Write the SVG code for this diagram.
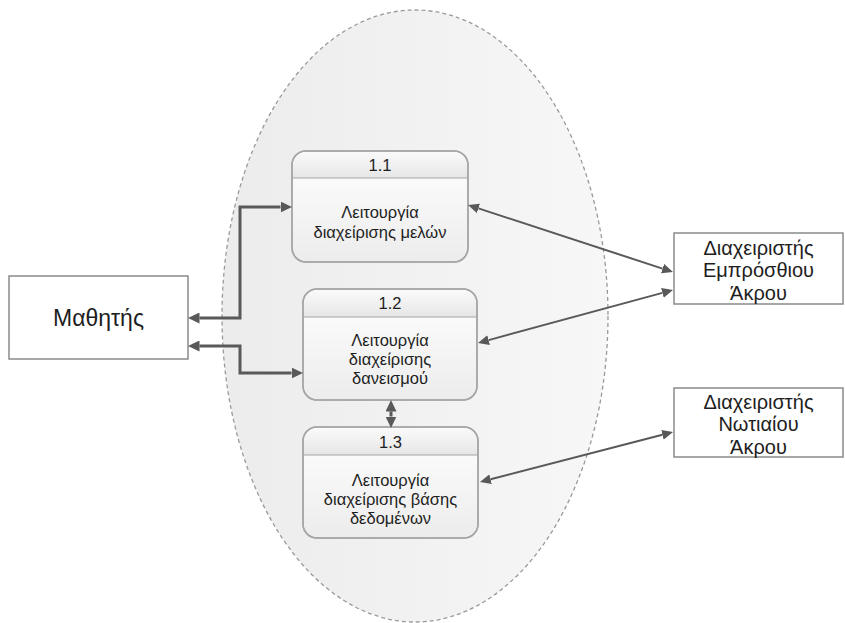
<svg xmlns="http://www.w3.org/2000/svg" width="845" height="623" viewBox="0 0 845 623">
<defs>
  <linearGradient id="ellGrad" x1="0" y1="0" x2="1" y2="0">
    <stop offset="0" stop-color="#ececec"/>
    <stop offset="1" stop-color="#f7f7f7"/>
  </linearGradient>
  <linearGradient id="bodyGrad" x1="0" y1="0" x2="0" y2="1">
    <stop offset="0" stop-color="#ffffff"/>
    <stop offset="1" stop-color="#ececec"/>
  </linearGradient>
  <linearGradient id="headGrad" x1="0" y1="0" x2="0" y2="1">
    <stop offset="0" stop-color="#fafafa"/>
    <stop offset="1" stop-color="#e6e6e6"/>
  </linearGradient>
  <marker id="arr" markerUnits="userSpaceOnUse" markerWidth="12" markerHeight="11" refX="0" refY="5.5" orient="auto-start-reverse">
    <path d="M0,0 L11.5,5.5 L0,11 Z" fill="#595959"/>
  </marker>
  <marker id="arrS" markerUnits="userSpaceOnUse" markerWidth="12" markerHeight="10" refX="0" refY="5" orient="auto-start-reverse">
    <path d="M0,0 L11,5 L0,10 Z" fill="#595959"/>
  </marker>
</defs>
<style>
  .ent { fill: #ffffff; stroke: #8a8a8a; stroke-width: 1.5; }
  .proc { fill: url(#bodyGrad); stroke: #a6a6a6; stroke-width: 1.5; }
  .head { fill: url(#headGrad); }
  .div { stroke: #a6a6a6; stroke-width: 1.2; }
  .t { font-family: "Liberation Sans", "DejaVu Sans", sans-serif; fill: #1e1e1e; text-anchor: middle; }
  .tp { font-size: 16.5px; }
  .te { font-size: 20px; }
  .thick { fill: none; stroke: #595959; stroke-width: 3; marker-start: url(#arr); marker-end: url(#arr); }
  .thin { fill: none; stroke: #595959; stroke-width: 2; marker-start: url(#arrS); marker-end: url(#arrS); }
</style>

<g id="boundary">
  <ellipse cx="415" cy="316" rx="193" ry="306" fill="url(#ellGrad)" stroke="#9a9a9a" stroke-width="1.3" stroke-dasharray="4 3"/>
</g>

<g id="mathitis">
  <rect class="ent" x="9" y="276" width="179" height="83"/>
  <text class="t" x="98.5" y="326" font-size="23">Μαθητής</text>
</g>

<g id="front-admin">
  <rect class="ent" x="674" y="233" width="169" height="71"/>
  <text class="t te" x="758.5" y="255">Διαχειριστής</text>
  <text class="t te" x="758.5" y="277">Εμπρόσθιου</text>
  <text class="t te" x="758.5" y="300">Άκρου</text>
</g>

<g id="back-admin">
  <rect class="ent" x="674" y="388" width="169" height="69"/>
  <text class="t te" x="758.5" y="409">Διαχειριστής</text>
  <text class="t te" x="758.5" y="431">Νωτιαίου</text>
  <text class="t te" x="758.5" y="454">Άκρου</text>
</g>

<g id="p1-1">
  <rect class="proc" x="292" y="151" width="176" height="111" rx="14"/>
  <path class="head" d="M293,178 V165 A13,13 0 0 1 306,152 H454 A13,13 0 0 1 467,165 V178 Z"/>
  <rect x="292" y="151" width="176" height="111" rx="14" fill="none" stroke="#a6a6a6" stroke-width="1.5"/>
  <line class="div" x1="292" y1="178" x2="468" y2="178"/>
  <text class="t tp" x="380" y="170.5">1.1</text>
  <text class="t tp" x="380" y="218">Λειτουργία</text>
  <text class="t tp" x="380" y="238">διαχείρισης μελών</text>
</g>

<g id="p1-2">
  <rect class="proc" x="303" y="289" width="174" height="111" rx="14"/>
  <path class="head" d="M304,317 V303 A13,13 0 0 1 317,290 H463 A13,13 0 0 1 476,303 V317 Z"/>
  <rect x="303" y="289" width="174" height="111" rx="14" fill="none" stroke="#a6a6a6" stroke-width="1.5"/>
  <line class="div" x1="303" y1="317" x2="477" y2="317"/>
  <text class="t tp" x="390" y="309">1.2</text>
  <text class="t tp" x="390" y="346">Λειτουργία</text>
  <text class="t tp" x="390" y="365">διαχείρισης</text>
  <text class="t tp" x="390" y="384">δανεισμού</text>
</g>

<g id="p1-3">
  <rect class="proc" x="303" y="427" width="175" height="111" rx="14"/>
  <path class="head" d="M304,455 V441 A13,13 0 0 1 317,428 H464 A13,13 0 0 1 477,441 V455 Z"/>
  <rect x="303" y="427" width="175" height="111" rx="14" fill="none" stroke="#a6a6a6" stroke-width="1.5"/>
  <line class="div" x1="303" y1="455" x2="478" y2="455"/>
  <text class="t tp" x="390.5" y="447.5">1.3</text>
  <text class="t tp" x="390.5" y="486">Λειτουργία</text>
  <text class="t tp" x="390.5" y="505">διαχείρισης βάσης</text>
  <text class="t tp" x="390.5" y="524">δεδομένων</text>
</g>

<g id="connectors">
  <path class="thick" d="M199.5,318 H240 V207 H280.5"/>
  <path class="thick" d="M199.5,346 H240 V373 H291.5"/>
  <path class="thick" d="M391,411.5 V416.5"/>
  <path class="thin" d="M478.5,208.4 L662.5,268.6"/>
  <path class="thin" d="M488.6,340.1 L662.4,292.9"/>
  <path class="thin" d="M490.6,479.2 L662.4,434.8"/>
</g>
</svg>
